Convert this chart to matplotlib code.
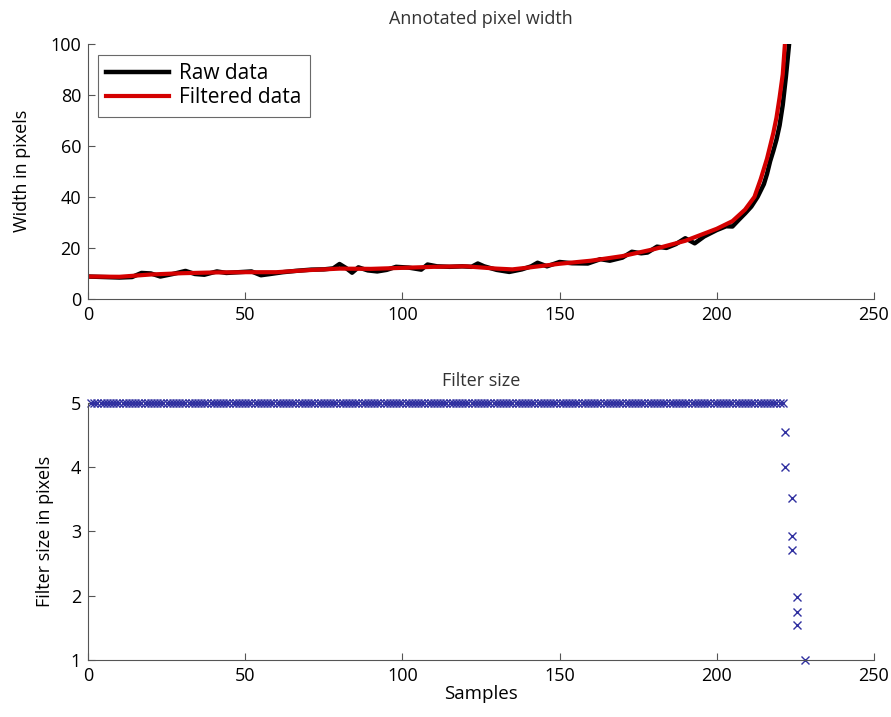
import numpy as np
import matplotlib
matplotlib.use('Agg')
import matplotlib.pyplot as plt

plt.rcParams['font.family'] = ['Open Sans', 'DejaVu Sans']

# Top panel: annotated pixel width
raw_x = [0, 5, 10, 14, 17, 20, 23, 27, 31, 34, 37, 41, 44, 48, 52, 55, 58, 62, 66, 71,
         75, 78, 80, 82, 84, 86, 89, 92, 95, 98, 102, 106, 108, 111, 115, 119, 122, 124, 126, 130,
         134, 138, 141, 143, 146, 150, 154, 159, 163, 166, 170, 173, 176, 178, 181, 184, 187, 190, 193, 196,
         200, 203, 205, 207, 209, 211, 213, 215, 216, 217, 218, 219, 220, 221, 222, 223]
raw_y = [8.8, 8.6, 8.4, 8.6, 10.2, 10.0, 8.8, 9.8, 11.0, 9.8, 9.5, 10.8, 10.2, 10.5, 10.8, 9.3, 9.8, 10.5, 11.0, 11.5,
         11.6, 12.0, 13.7, 12.2, 10.3, 12.4, 11.2, 10.8, 11.4, 12.6, 12.3, 11.5, 13.5, 12.8, 12.6, 12.8, 12.6, 13.9, 12.8, 11.4,
         10.6, 11.6, 12.8, 14.2, 12.8, 14.5, 14.0, 13.9, 15.6, 15.0, 16.2, 18.5, 17.9, 18.2, 20.5, 20.0, 21.5, 23.8, 21.8, 24.5,
         27.0, 28.5, 28.4, 31.0, 33.5, 36.2, 40.0, 45.0, 49.0, 54.0, 58.0, 62.4, 68.0, 76.0, 87.0, 99.6]
filt_x = [0, 10, 20, 30, 40, 50, 60, 70, 80, 90, 100, 110, 120, 130, 135, 140, 150, 160, 170, 180,
          190, 200, 205, 209, 212, 214, 216, 218, 219, 220, 221, 221.7]
filt_y = [8.8, 8.7, 9.6, 10.1, 10.4, 10.5, 10.5, 11.3, 11.9, 11.8, 12.2, 12.6, 12.8, 11.9, 11.6, 12.3, 13.8, 15.0, 16.8, 19.5,
          22.8, 27.5, 30.5, 35.0, 40.0, 47.0, 55.0, 65.0, 71.0, 79.0, 88.0, 100.0]

# Bottom panel: filter size
size_x = list(np.arange(1, 222)) + [221.7, 221.7, 223.8, 223.8, 223.8, 225.5, 225.5, 225.5, 228]
size_y = [5] * 221 + [4.55, 4.0, 3.52, 2.93, 2.71, 1.98, 1.75, 1.54, 1.0]

fig = plt.figure(figsize=(8.91, 7.17), dpi=100)
ax1 = fig.add_axes([0.0988, 0.583, 0.882, 0.356])
ax2 = fig.add_axes([0.0988, 0.0795, 0.882, 0.359])

ax1.plot(raw_x, raw_y, color='black', lw=3.2, label='Raw data')
ax1.plot(filt_x, filt_y, color='#d40000', lw=3.0, label='Filtered data')
ax1.set_xlim(0, 250)
ax1.set_ylim(0, 100)
ax1.set_xticks([0, 50, 100, 150, 200, 250])
ax1.set_yticks([0, 20, 40, 60, 80, 100])
ax1.set_title('Annotated pixel width', fontsize=13, pad=14, color='#333333')
ax1.set_ylabel('Width in pixels', fontsize=13, labelpad=14)
leg = ax1.legend(loc='upper left', fontsize=15, fancybox=False, edgecolor='#444444',
                 handlelength=3.0, handletextpad=0.5, borderpad=0.4, labelspacing=0.15,
                 borderaxespad=0, bbox_to_anchor=(0.0127, 0.957))
leg.get_frame().set_linewidth(0.8)

ax2.plot(size_x, size_y, linestyle='none', marker='x', color='#3030a0', ms=6, mew=1)
ax2.set_xlim(0, 250)
ax2.set_ylim(1, 5)
ax2.set_xticks([0, 50, 100, 150, 200, 250])
ax2.set_yticks([1, 2, 3, 4, 5])
ax2.set_title('Filter size', fontsize=13, pad=12, color='#333333')
ax2.set_ylabel('Filter size in pixels', fontsize=13, labelpad=12)
ax2.set_xlabel('Samples', fontsize=13.5, labelpad=0)

for ax in (ax1, ax2):
    ax.spines['top'].set_visible(False)
    ax.spines['right'].set_visible(False)
    ax.spines['left'].set_color('#555555')
    ax.spines['bottom'].set_color('#555555')
    ax.tick_params(direction='in', length=5, color='#555555', labelsize=13, pad=5)

for line in ax2.lines:
    line.set_clip_on(False)

fig.savefig('out.png', dpi=100)
